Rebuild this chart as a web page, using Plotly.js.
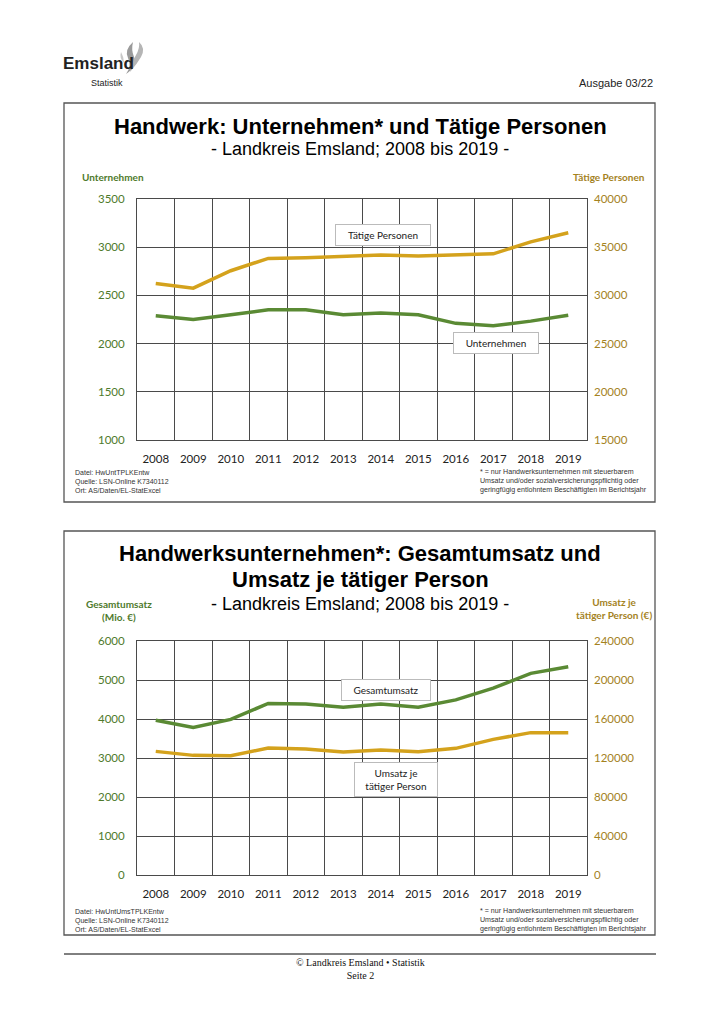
<!DOCTYPE html>
<html>
<head>
<meta charset="utf-8">
<script src="https://cdn.plot.ly/plotly-3.0.1.min.js"></script>
<style>html,body{margin:0;padding:0;background:#fff}#chart{width:724px;height:1024px}</style>
</head>
<body>
<div id="chart"></div>
<script>
// ---- data ----
const years = ["2008","2009","2010","2011","2012","2013","2014","2015","2016","2017","2018","2019"];
const unternehmen = [2290, 2250, 2300, 2350, 2350, 2300, 2318, 2300, 2210, 2185, 2233, 2293];
const taetigePersonen = [31230, 30750, 32560, 33840, 33900, 34070, 34180, 34080, 34180, 34310, 35550, 36500];
const gesamtumsatz = [3970, 3780, 3990, 4400, 4385, 4300, 4385, 4300, 4490, 4790, 5170, 5340];
const umsatzJePerson = [126800, 122700, 122400, 130200, 129200, 126200, 128200, 126500, 129900, 139100, 146000, 146000];

const W = 724, H = 1024;
const X = p => p / W;
const Y = p => 1 - p / H;

const GREEN = "#5a8a34", GOLD = "#d4a21c";
const GREEN_T = "#4e7a2c", GOLD_T = "#a4821e";
const GRID = "#4a4a4a";
const TICKF = {family: "Lato, 'Open Sans', sans-serif", size: 11.5};

const traces = [
  {x: years, y: taetigePersonen, xaxis: "x", yaxis: "y2", mode: "lines", line: {color: GOLD, width: 3.5}, name: "Tätige Personen"},
  {x: years, y: unternehmen, xaxis: "x", yaxis: "y", mode: "lines", line: {color: GREEN, width: 3.5}, name: "Unternehmen"},
  {x: years, y: umsatzJePerson, xaxis: "x2", yaxis: "y4", mode: "lines", line: {color: GOLD, width: 3.5}, name: "Umsatz je tätiger Person"},
  {x: years, y: gesamtumsatz, xaxis: "x2", yaxis: "y3", mode: "lines", line: {color: GREEN, width: 3.5}, name: "Gesamtumsatz"}
];

function xax(anchor) {
  return {domain: [X(137), X(587)], anchor: anchor, type: "category", tickson: "boundaries",
    range: [-0.5, years.length - 0.5],
    showgrid: true, gridcolor: GRID, gridwidth: 1, ticks: "", showline: true, mirror: true,
    linecolor: GRID, linewidth: 1, ticklabelstandoff: 8,
    tickfont: Object.assign({color: "#222"}, TICKF), fixedrange: true};
}
function yl(dom, range, dtick) {
  return {domain: dom, range: range, dtick: dtick, tickformat: "d", showgrid: true, gridcolor: GRID,
    gridwidth: 1, showline: true, mirror: true, linecolor: GRID, linewidth: 1, zeroline: false,
    ticks: "", ticklabelstandoff: 9, tickfont: Object.assign({color: GREEN_T}, TICKF), fixedrange: true};
}
function yr(over, range, dtick) {
  return {overlaying: over, side: "right", range: range, dtick: dtick, tickformat: "d", showgrid: false,
    zeroline: false, showline: false, ticks: "", ticklabelstandoff: 6,
    tickfont: Object.assign({color: GOLD_T}, TICKF), fixedrange: true};
}

const ann = [];
function T(text, x, y, size, opts) {
  ann.push(Object.assign({text: text, x: X(x), y: Y(y), xref: "paper", yref: "paper", showarrow: false,
    xanchor: "center", yanchor: "middle", font: {family: "'Liberation Sans', Arial, sans-serif", size: size, color: "#000"}}, opts || {}));
}
const SANS = "'Liberation Sans', Arial, sans-serif";
const CAL = "Lato, 'Open Sans', sans-serif";

// header
T("<b>Emsland</b>", 61, 63, 17, {xanchor: "left", font: {family: SANS, size: 17, color: "#222"}});
T("Statistik", 107, 83, 9, {font: {family: SANS, size: 9, color: "#222"}});
T("Ausgabe 03/22", 655, 83, 11, {xanchor: "right", font: {family: SANS, size: 11, color: "#222"}});

// chart 1 texts
T("<b>Handwerk: Unternehmen* und Tätige Personen</b>", 360, 126, 22);
T("- Landkreis Emsland; 2008 bis 2019 -", 360, 149, 18);
T("<b>Unternehmen</b>", 80, 177, 10, {xanchor: "left", font: {family: CAL, size: 10, color: GREEN_T}});
T("<b>Tätige Personen</b>", 647, 177, 10, {xanchor: "right", font: {family: CAL, size: 10, color: GOLD_T}});
T("Tätige Personen", 383, 235, 10, {font: {family: CAL, size: 10, color: "#222"}, bgcolor: "#fff", bordercolor: "#bbb", borderwidth: 1, borderpad: 4, width: 86});
T("Unternehmen", 496, 343, 10, {font: {family: CAL, size: 10, color: "#222"}, bgcolor: "#fff", bordercolor: "#bbb", borderwidth: 1, borderpad: 4, width: 76});
T("Datei: HwUntTPLKEntw<br>Quelle: LSN-Online K7340112<br>Ort: AS/Daten/EL-StatExcel", 73, 481, 7, {xanchor: "left", align: "left", font: {family: SANS, size: 7, color: "#333"}});
T("* = nur Handwerksunternehmen mit steuerbarem<br>Umsatz und/oder sozialversicherungspflichtig oder<br>geringfügig entlohntem Beschäftigten im Berichtsjahr", 478, 481, 7.1, {xanchor: "left", align: "left", font: {family: SANS, size: 7.1, color: "#333"}});

// chart 2 texts
T("<b>Handwerksunternehmen*: Gesamtumsatz und</b>", 360, 553, 22);
T("<b>Umsatz je tätiger Person</b>", 360, 579, 22);
T("- Landkreis Emsland; 2008 bis 2019 -", 360, 604, 18);
T("<b>Gesamtumsatz<br>(Mio. €)</b>", 119, 610, 10, {font: {family: CAL, size: 10, color: GREEN_T}});
T("<b>Umsatz je<br>tätiger Person (€)</b>", 614, 608, 10, {font: {family: CAL, size: 10, color: GOLD_T}});
T("Gesamtumsatz", 386, 690, 10, {font: {family: CAL, size: 10, color: "#222"}, bgcolor: "#fff", bordercolor: "#bbb", borderwidth: 1, borderpad: 4, width: 80});
T("Umsatz je<br>tätiger Person", 396, 779, 10, {font: {family: CAL, size: 10, color: "#222"}, bgcolor: "#fff", bordercolor: "#bbb", borderwidth: 1, borderpad: 4, width: 74});
T("Datei: HwUntUmsTPLKEntw<br>Quelle: LSN-Online K7340112<br>Ort: AS/Daten/EL-StatExcel", 73, 920, 7, {xanchor: "left", align: "left", font: {family: SANS, size: 7, color: "#333"}});
T("* = nur Handwerksunternehmen mit steuerbarem<br>Umsatz und/oder sozialversicherungspflichtig oder<br>geringfügig entlohntem Beschäftigten im Berichtsjahr", 478, 920, 7.1, {xanchor: "left", align: "left", font: {family: SANS, size: 7.1, color: "#333"}});

// footer
T("© Landkreis Emsland • Statistik<br>Seite 2", 360, 969, 10, {font: {family: "'Liberation Serif', 'Times New Roman', serif", size: 10, color: "#111"}});

const shapes = [
  {type: "rect", xref: "paper", yref: "paper", x0: X(64), x1: X(655), y0: Y(103), y1: Y(502), line: {color: "#555", width: 1.3}},
  {type: "rect", xref: "paper", yref: "paper", x0: X(64), x1: X(655), y0: Y(531), y1: Y(935), line: {color: "#555", width: 1.3}},
  {type: "line", xref: "paper", yref: "paper", x0: X(64), x1: X(656), y0: Y(954), y1: Y(954), line: {color: "#000", width: 1}},
  // logo swoosh
  {type: "path", xref: "paper", yref: "paper", fillcolor: "#9a9a9a", line: {width: 0},
   path: `M ${X(133)} ${Y(42)} Q ${X(124)} ${Y(50)} ${X(128)} ${Y(58)} Q ${X(132)} ${Y(66)} ${X(126)} ${Y(74)} Q ${X(138)} ${Y(66)} ${X(134)} ${Y(57)} Q ${X(131)} ${Y(50)} ${X(133)} ${Y(42)} Z`},
  {type: "path", xref: "paper", yref: "paper", fillcolor: "#b5b5b5", line: {width: 0},
   path: `M ${X(139)} ${Y(42)} Q ${X(146)} ${Y(48)} ${X(141)} ${Y(57)} Q ${X(137)} ${Y(64)} ${X(130)} ${Y(72)} Q ${X(132)} ${Y(62)} ${X(136)} ${Y(55)} Q ${X(140)} ${Y(48)} ${X(139)} ${Y(42)} Z`},
  {type: "path", xref: "paper", yref: "paper", fillcolor: "#c8c8c8", line: {width: 0},
   path: `M ${X(121)} ${Y(52)} Q ${X(119)} ${Y(58)} ${X(124)} ${Y(63)} Q ${X(124)} ${Y(57)} ${X(121)} ${Y(52)} Z`}
];

const layout = {
  width: W, height: H, margin: {l: 0, r: 0, t: 0, b: 0}, showlegend: false,
  paper_bgcolor: "#fff", plot_bgcolor: "#fff",
  xaxis: xax("y"),
  xaxis2: xax("y3"),
  yaxis: yl([Y(440), Y(199)], [1000, 3500], 500),
  yaxis2: yr("y", [15000, 40000], 5000),
  yaxis3: yl([Y(875), Y(641)], [0, 6000], 1000),
  yaxis4: yr("y3", [0, 240000], 40000),
  annotations: ann,
  shapes: shapes
};

Plotly.newPlot("chart", traces, layout, {staticPlot: true, displayModeBar: false});
</script>
</body>
</html>
